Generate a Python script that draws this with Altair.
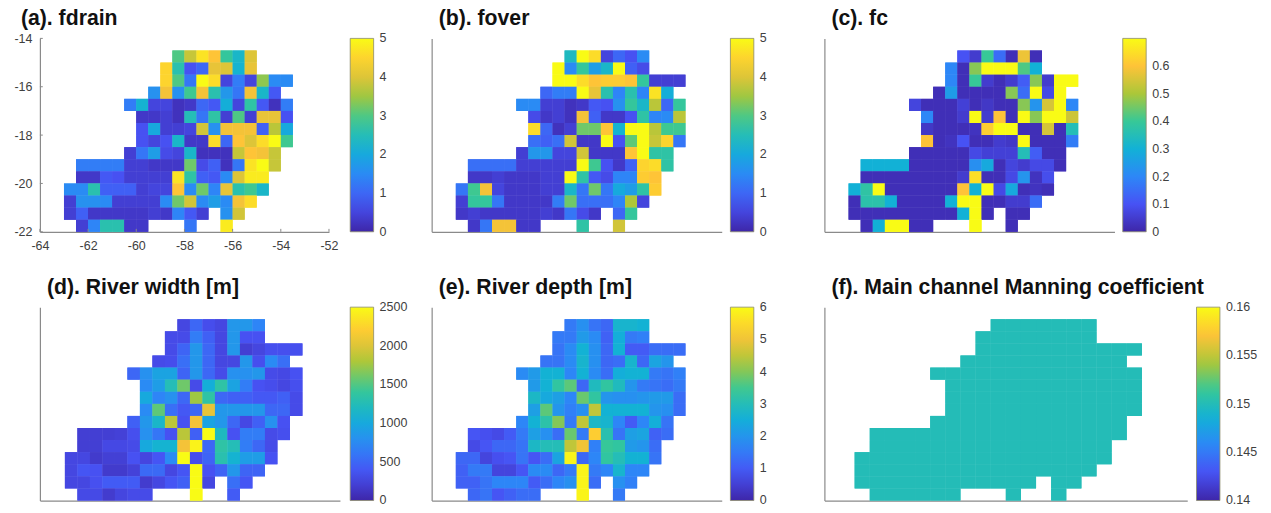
import altair as alt
import pandas as pd

PARULA = ["#3E26A8", "#4752F4", "#2D87F7", "#12B1D6", "#37C897", "#ABC739", "#FEC338", "#F9FB15"]
FONT = "Liberation Sans"
TXT = "#404040"
AXC = "#8a8a8a"

# grid columns that hold a value, for every latitude row, north to south
ROW_COLS = [
    list(range(9, 16)), list(range(8, 16)), list(range(8, 19)), list(range(7, 18)),
    list(range(5, 19)), list(range(6, 19)), list(range(6, 19)), list(range(6, 19)),
    list(range(5, 18)), list(range(1, 18)), list(range(1, 17)), list(range(0, 17)),
    list(range(0, 16)), list(range(0, 12)) + [13, 14], list(range(1, 7)) + [10, 13],
]

fdrain = [
    [3, 3.8, 4.7, 4.3, 2.8, 2.3, 4.0],
    [4.5, 2.6, .7, 1.0, 4.1, 4.0, 2.2, 4.1],
    [4.5, 3, 1.2, 5, 4.6, .5, 1.3, .5, 3.4, 1.5, 1.5],
    [1.6, 4.2, 1.6, 2.9, 4.2, 2.6, 1.7, 1.2, 4.2, 2.3, .8],
    [1.3, 2.2, .5, .5, .2, .3, 1.0, .8, 2.1, .5, 2.7, .8, .2, 1.3],
    [.3, .3, .4, .2, 2.5, 1.2, 2.7, .4, 3, .4, 4.1, 4.1, .7],
    [.7, 2.0, .4, .4, .5, 3.9, 1.6, 4.2, 4.2, 4.2, .9, 3.7, 2.0],
    [.7, .5, .7, 2.3, .3, .3, 4.6, 1.0, 4.3, 4.0, 4.6, 5, 2.9],
    [.4, 1.2, 1.8, .6, .5, 2.3, .2, .2, .2, 3.8, 4.3, 4.2, 3.8],
    [1.3, 1.3, 1.3, 1.3, .4, .4, .3, .3, .3, 3.2, .6, .9, .2, 1.2, 4.7, 5, 3.8],
    [.3, .3, .8, .7, .4, .4, .4, .4, 4.7, 2.7, .9, .8, 1.5, 4.0, 4.8, 4.8],
    [1.5, 1.5, 2.6, .9, .9, .9, .4, .5, .5, 4.3, 1.5, 3.2, 1.4, 4.1, 2.6, 2.9, 2.3],
    [.4, 1.6, 1.6, 1.5, .4, .4, .4, .4, 1.5, 3.2, 3.9, 1.5, 1.8, 1.5, 4.2, 4.6],
    [.4, .9, .3, .3, .3, .3, .3, .4, .3, 1.4, .8, .4, 1.6, 3.9],
    [.4, 1.4, 2.6, 2.6, .3, .3, 1.2, 4.8],
]
fover = [
    [2.4, 5, 4.6, .5, 1.0, .7, 1.5],
    [5, 1.5, 2.8, 1.8, 2.3, 5, .9, .6],
    [5, 5, 4.6, 4.3, 4.4, 4.4, 4.3, 2.8, .4, .4, .4],
    [1, 1.3, 1.3, 5, 4.1, 2.6, 1.4, 2.6, 1.4, 4.7, 2.1],
    [1.5, 1.5, .4, .4, .2, .3, .8, .7, 1.6, 2.8, 2.3, 3.7, 1.0, 2.8],
    [.6, .3, .4, .2, 4.2, .9, .3, .3, .7, 2.7, 1.4, 1.5, 3.7],
    [4.6, 1, .2, .4, 3.2, 3.2, 4.3, 2.2, 5, 5, 3.7, 2.9, 2.9],
    [1.1, .9, 1.1, 3.9, .3, .3, 5, .7, 3.1, 5, 3.8, 4.5, 1.2],
    [.4, 1.7, 1.7, .5, .5, 3.9, .3, .3, .3, 4.3, 5, 2.7, 2.7],
    [1.1, 1.1, 1.1, 1.1, .4, .4, .4, .4, .4, 5, 2.9, .7, .3, .9, 4.5, 4.6, 2.7],
    [.3, .3, .4, .3, .3, .3, .4, .4, 5, 2.7, .8, .6, 1.4, 1.4, 4.4, 4.3],
    [1.2, 2.9, 4.2, .5, .3, .3, .3, .4, .4, 2.3, 1.2, 3.2, 1.2, 2.0, 1.8, 2.7, 4.4],
    [.4, 2.8, 2.8, 1.2, .3, .3, .3, .3, 1.3, 3.2, 1.1, 1.1, 1.1, 1.4, 3.6, .5],
    [.3, .4, .3, .3, .3, .3, .3, .4, .3, 1.2, .6, .3, 1.0, 2.8],
    [.3, 1.2, 4.2, 4.2, .3, .3, 2.7, 3.9],
]
fc = [
    [.1, .05, .4, .15, .02, .58, .02],
    [.2, .02, .47, .7, .7, .7, .42, .3],
    [.2, .02, .4, .05, .02, .05, .12, .47, .05, .7, .7],
    [.02, .25, .02, .02, .02, .02, .47, .15, .7, .08, .7],
    [.07, .02, .02, .02, .06, .02, .04, .02, .02, .47, .23, .55, .7, .2],
    [.2, .02, .02, .05, .7, .05, .6, .02, .7, .47, .7, .7, .54],
    [.04, .02, .02, .02, .03, .62, .7, .7, .02, .02, .55, .02, .35],
    [.6, .02, .03, .1, .02, .02, .05, .04, .7, .02, .02, .02, .18],
    [.02, .02, .02, .02, .02, .08, .06, .06, .06, .35, .12, .02, .02],
    [.3, .3, .3, .3, .02, .02, .02, .02, .02, .22, .28, .02, .07, .05, .08, .08, .02],
    [.02, .02, .02, .02, .02, .02, .02, .02, .05, .65, .02, .02, .08, .23, .03, .09],
    [.3, .38, .7, .02, .02, .02, .02, .02, .02, .6, .3, .7, .08, .28, .02, .03, .02],
    [.02, .37, .37, .3, .02, .02, .02, .02, .3, .7, .7, .02, .02, .05, .05, .15],
    [.02, .02, .02, .02, .02, .02, .02, .02, .02, .3, .7, .02, .02, .02],
    [.02, .3, .7, .7, .02, .02, .7, .02],
]
width_m = [
    [270, 500, 320, 270, 850, 850, 700],
    [300, 300, 650, 450, 270, 850, 350, 350],
    [300, 480, 850, 500, 270, 850, 200, 260, 330, 330, 330],
    [300, 320, 550, 850, 500, 270, 270, 850, 330, 750, 550],
    [500, 800, 950, 950, 480, 850, 500, 300, 800, 800, 850, 300, 280, 350],
    [750, 900, 1250, 1600, 300, 1050, 1350, 950, 650, 350, 320, 270, 330],
    [1000, 700, 800, 500, 1750, 1350, 500, 450, 450, 400, 400, 450, 300],
    [750, 1550, 550, 400, 500, 2050, 850, 850, 850, 850, 500, 500, 300],
    [450, 850, 1150, 1850, 350, 2100, 950, 850, 500, 280, 450, 800, 350],
    [200, 200, 200, 220, 330, 800, 600, 350, 1850, 450, 2500, 1200, 350, 650, 650, 300, 330],
    [200, 200, 280, 280, 300, 1000, 1100, 1100, 2100, 2450, 500, 1350, 1250, 650, 500, 300],
    [270, 270, 170, 210, 210, 350, 260, 380, 750, 2500, 320, 480, 1300, 1100, 900, 900, 350],
    [270, 380, 350, 170, 170, 230, 520, 520, 270, 380, 2500, 350, 480, 850, 480, 480],
    [270, 270, 340, 420, 420, 420, 180, 270, 380, 450, 2500, 270, 550, 380],
    [290, 290, 180, 260, 300, 300, 2500, 420],
]
depth_m = [
    [1.5, 1.9, 1.4, 1.2, 2.7, 2.7, 2.6],
    [1.5, 1.5, 2.1, 1.8, 1.1, 2.5, 1.5, 1.6],
    [1.4, 1.8, 2.6, 1.9, 1.2, 2.6, 1.0, 1.0, 1.3, 1.3, 1.3],
    [1.4, 1.4, 1.8, 2.7, 1.9, 1.2, 1.3, 2.7, 1.2, 2.3, 2.0],
    [1.8, 2.1, 2.6, 2.6, 1.7, 2.6, 1.8, 1.3, 2.5, 2.6, 2.6, 1.5, 1.4, 1.6],
    [2.1, 2.6, 3.3, 3.7, 1.2, 2.9, 3.3, 2.9, 2.0, 1.5, 1.4, 1.3, 1.5],
    [2.8, 2.4, 2.2, 1.7, 3.8, 3.3, 2.0, 1.9, 1.9, 2.0, 2.1, 2.1, 1.3],
    [2.2, 3.7, 2.0, 1.6, 1.9, 4.5, 2.6, 2.6, 2.6, 2.6, 2.0, 1.9, 1.3],
    [1.7, 2.6, 3.2, 4.0, 1.5, 4.5, 2.8, 2.7, 1.7, 1.0, 1.7, 2.5, 1.4],
    [.9, .8, .7, 1.0, 1.5, 2.2, 1.9, 1.3, 3.8, 1.5, 5.3, 3.1, 1.4, 2.2, 2.3, 1.1, 1.3],
    [.7, .9, 1.2, 1.2, 1.4, 2.8, 3.0, 3.0, 4.5, 5.0, 1.6, 3.4, 3.3, 2.1, 2.0, 1.3],
    [1.2, 1.2, .6, .8, .9, 1.4, .9, 1.3, 2.3, 5.9, 1.2, 1.7, 3.3, 3.0, 2.6, 2.6, 1.4],
    [1.1, 1.5, 1.5, .6, .6, .9, 1.8, 1.8, 1.2, 1.5, 5.9, 1.5, 1.7, 2.7, 1.7, 1.7],
    [1.1, 1.1, 1.4, 1.7, 1.7, 1.7, 1.0, 1.3, 1.7, 1.9, 5.9, 1.3, 1.9, 1.6],
    [1.2, 1.4, .9, 1.1, 1.3, 1.3, 5.9, 1.5],
]
manning_value = 0.15

x_ticks = [-64, -62, -60, -58, -56, -54, -52]
y_ticks = [-14, -16, -18, -20, -22]


def cells(rows):
    out = []
    for r, (cols, vals) in enumerate(zip(ROW_COLS, rows)):
        for c, v in zip(cols, vals):
            out.append({"x": -63 + c * 0.5, "x2": -62.5 + c * 0.5,
                        "y": -14.5 - r * 0.5, "y2": -15 - r * 0.5, "v": v})
    return pd.DataFrame(out)


def panel(title, rows, lo, hi, vals, fmt, w, lx, labelled=False):
    stops = [lo + (hi - lo) * i / 7 for i in range(8)]
    scale = alt.Scale(domain=stops, range=PARULA, interpolate="rgb")
    xs = alt.Scale(domain=[-64, -52], nice=False, zero=False)
    ys = alt.Scale(domain=[-22, -14], nice=False, zero=False)
    xa = alt.Axis(title=None, grid=False, domainColor=AXC, domainWidth=1.2, ticks=False,
                  labels=labelled, values=x_ticks, labelExpr="'' + datum.value", labelFont=FONT,
                  labelFontSize=12.5, labelColor=TXT, labelPadding=8, labelFlush=False)
    ya = alt.Axis(title=None, grid=False, domainColor=AXC, domainWidth=1.2, ticks=False,
                  labels=labelled, values=y_ticks, labelExpr="'' + datum.value", labelFont=FONT,
                  labelFontSize=12.5, labelColor=TXT, labelPadding=8, labelFlush=False)
    # end labels sit a hair inside the bar so that they centre on its ends, as in the reference
    eps = (hi - lo) * 1e-4
    shown = [min(max(v, lo + eps), hi - eps) for v in vals]
    legend = alt.Legend(title=None, orient="none", legendX=lx, legendY=0, direction="vertical",
                        type="gradient",
                        gradientLength=194, gradientThickness=23.5, values=shown, format=fmt,
                        labelFont=FONT, labelFontSize=12.5, labelColor=TXT, labelOffset=6,
                        labelOverlap=False,
                        gradientStrokeColor="#8a8a6a", gradientStrokeWidth=0.8)
    base = alt.Chart(cells(rows))
    rect = base.mark_rect().encode(
        x=alt.X("x:Q", scale=xs, axis=xa),
        x2="x2:Q",
        y=alt.Y("y:Q", scale=ys, axis=ya),
        y2="y2:Q",
        color=alt.Color("v:Q", scale=scale, legend=legend),
    )
    # the same cells once more: it closes the hairline seams that antialiasing leaves between them
    layers = [rect, rect]
    if labelled:
        tx = pd.DataFrame({"x": x_ticks, "y": -22, "y2": -21.88})
        ty = pd.DataFrame({"y": y_ticks, "x": -64, "x2": -63.88})
        layers.append(alt.Chart(tx).mark_rule(color=AXC, strokeWidth=1).encode(
            x=alt.X("x:Q", scale=xs, axis=xa), y=alt.Y("y:Q", scale=ys, axis=ya), y2="y2:Q"))
        layers.append(alt.Chart(ty).mark_rule(color=AXC, strokeWidth=1).encode(
            x=alt.X("x:Q", scale=xs, axis=xa), x2="x2:Q", y=alt.Y("y:Q", scale=ys, axis=ya)))
    return alt.layer(*layers).properties(
        width=w, height=194,
        title=alt.TitleParams(title, anchor="start", dx=7, font=FONT, fontSize=21.3,
                              fontWeight="bold", color="#111111",
                              offset=3 if labelled else 9),
    )


def spacer(w):
    return alt.Chart(pd.DataFrame({"s": [0]})).mark_point(opacity=0).encode(
        x=alt.value(0), y=alt.value(0)).properties(width=w, height=194)


manning = [[manning_value] * len(c) for c in ROW_COLS]

a = panel("(a). fdrain", fdrain, 0, 5, [0, 1, 2, 3, 4, 5], "d", 290, 311.3, labelled=True)
b = panel("(b). fover", fover, 0, 5, [0, 1, 2, 3, 4, 5], "d", 291, 299.7)
c = panel("(c). fc", fc, 0, 0.7, [0, .1, .2, .3, .4, .5, .6], ".1~f", 291, 299.3)
d = panel("(d). River width [m]", width_m, 0, 2500, [0, 500, 1000, 1500, 2000, 2500], "d", 301, 311.3)
e = panel("(e). River depth [m]", depth_m, 0, 6, [0, 1, 2, 3, 4, 5, 6], "d", 291, 299.7)
f = panel("(f). Main channel Manning coefficient", manning, 0.14, 0.16,
          [.14, .145, .15, .155, .16], ".3~f", 364, 373.3)

chart = alt.concat(
    a, spacer(91.6), b, spacer(102.4), c,
    d, spacer(91.6), e, spacer(102.4), f,
    columns=5, spacing={"row": 75.6, "column": 0}, bounds="flush",
).resolve_scale(color="independent").properties(
    padding={"left": 5, "top": -1.3, "right": 5, "bottom": 5}, background="white"
).configure_view(stroke=None)

chart.save("out.html", embed_options={"renderer": "svg", "actions": False})
